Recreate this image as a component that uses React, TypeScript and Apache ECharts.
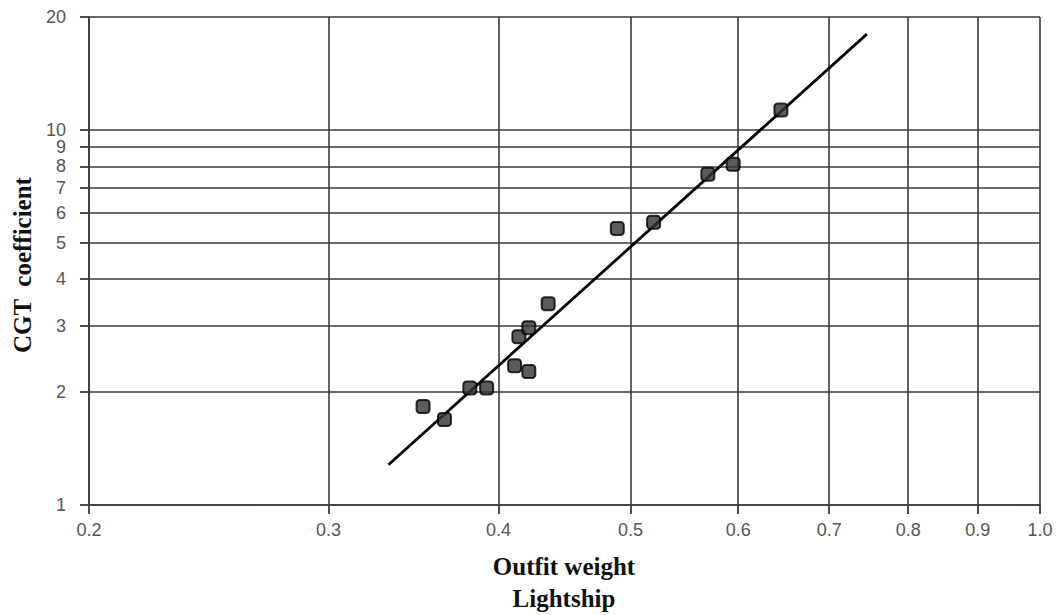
import React, { useEffect, useRef } from "react";
import * as echarts from "echarts";

const xTicks = [0.2, 0.3, 0.4, 0.5, 0.6, 0.7, 0.8, 0.9, 1.0];
const yTicks = [1, 2, 3, 4, 5, 6, 7, 8, 9, 10, 20];
const pointsX = [0.352, 0.365, 0.381, 0.392, 0.411, 0.421, 0.414, 0.421, 0.435, 0.489, 0.52, 0.57, 0.595, 0.645];
const pointsY = [1.83, 1.69, 2.05, 2.05, 2.35, 2.27, 2.81, 2.97, 3.44, 5.46, 5.67, 7.62, 8.1, 11.3];
const fitX = [0.332, 0.746];
const fitY = [1.28, 18.0];

export default function App() {
  const ref = useRef<HTMLDivElement>(null);
  useEffect(() => {
    if (!ref.current) return;
    const chart = echarts.init(ref.current, undefined, { renderer: "svg" });
    const labelStyle = { color: "#555", fontSize: 18, fontFamily: "Liberation Sans" };
    const axisColor = "#3a3a3a";
    const gridLine = { lineStyle: { color: axisColor, width: 1.6 } };
    const tick = { show: true, inside: false, length: 9, lineStyle: { color: axisColor, width: 1.8 } };
    const graphics: any[] = [
      {
        type: "text",
        x: 22,
        y: 265,
        rotation: Math.PI / 2,
        style: {
          text: "CGT  coefficient",
          fontFamily: "Liberation Serif",
          fontWeight: "bold",
          fontSize: 25,
          fill: "#111",
          align: "center",
          verticalAlign: "middle",
        },
      },
      {
        type: "text",
        x: 564,
        y: 582,
        style: {
          text: "Outfit weight\nLightship",
          fontFamily: "Liberation Serif",
          fontWeight: "bold",
          fontSize: 25,
          lineHeight: 32,
          fill: "#111",
          align: "center",
          verticalAlign: "middle",
        },
      },
    ];
    const baseOption: any = {
      animation: false,
      grid: { left: 89, right: 21, top: 17, bottom: 110 },
      xAxis: {
        type: "log",
        logBase: 10,
        min: 0.2,
        max: 1.0,
        axisLine: { show: true, lineStyle: { color: axisColor, width: 1.6 } },
        axisTick: { ...tick, customValues: xTicks },
        axisLabel: { ...labelStyle, margin: 16, customValues: xTicks, formatter: (v: number) => v.toFixed(1) },
        splitLine: { show: true, ...gridLine },
        minorTick: { show: false },
      },
      yAxis: {
        type: "log",
        logBase: 10,
        min: 1,
        max: 20,
        axisLine: { show: true, lineStyle: { color: axisColor, width: 1.6 } },
        axisTick: { ...tick, customValues: yTicks },
        axisLabel: { ...labelStyle, margin: 23, customValues: yTicks, formatter: (v: number) => String(Math.round(v)) },
        splitLine: { show: true, ...gridLine },
      },
      graphic: graphics,
      series: [
        {
          type: "line",
          data: fitX.map((x, i) => [x, fitY[i]]),
          showSymbol: false,
          lineStyle: { color: "#000", width: 2.8 },
          z: 3,
        },
        {
          type: "scatter",
          clip: false,
          data: pointsX.map((x, i) => [x, pointsY[i]]),
          symbol: "roundRect",
          symbolSize: 13,
          itemStyle: { color: "#333", borderColor: "#000", borderWidth: 2 },
          z: 4,
        },
      ],
    };
    chart.setOption(baseOption);

    // outward tick marks, placed through the chart's own log scales
    const bottom = chart.convertToPixel({ yAxisIndex: 0 }, yTicks[0]) as unknown as number;
    const left = chart.convertToPixel({ xAxisIndex: 0 }, xTicks[0]) as unknown as number;
    const yBelow = chart.convertFromPixel({ yAxisIndex: 0 }, bottom + 9) as unknown as number;
    const xLeft = chart.convertFromPixel({ xAxisIndex: 0 }, left - 9) as unknown as number;
    const tickLines: any[] = [];
    xTicks.forEach((v) => tickLines.push([{ coord: [v, yBelow] }, { coord: [v, yTicks[0]] }]));
    yTicks.forEach((v) => tickLines.push([{ coord: [xLeft, v] }, { coord: [xTicks[0], v] }]));
    chart.setOption({
      series: [
        {},
        {
          markLine: {
            silent: true,
            symbol: "none",
            label: { show: false },
            lineStyle: { color: axisColor, width: 1.8, type: "solid" },
            data: tickLines,
          },
        },
      ],
    });
    return () => chart.dispose();
  }, []);
  return <div ref={ref} style={{ position: "fixed", left: 0, top: 0, width: 1061, height: 615, background: "#fff" }} />;
}
